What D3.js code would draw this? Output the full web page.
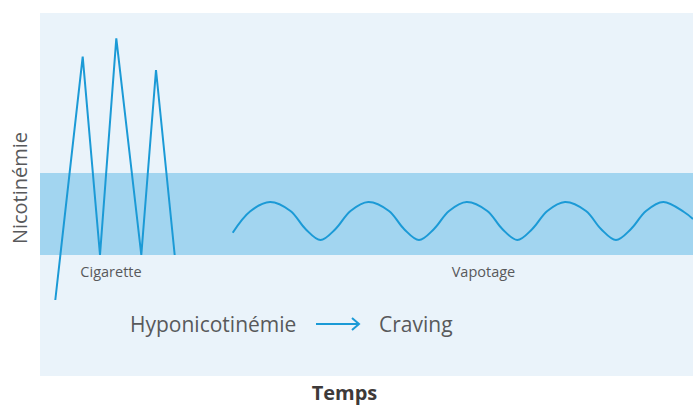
<!DOCTYPE html>
<html>
<head>
<meta charset="utf-8">
<script src="https://cdn.jsdelivr.net/npm/d3@7"></script>
<style>
	body { margin: 0; background: #fff; }
	text { font-family: "Open Sans", sans-serif; }
</style>
</head>
<body>
<div id="svg"></div>
<script>
const width = 693,
			height = 405;

// time in arbitrary units, level = nicotinemia
const timeDomain = [0, 65.3],
			levelDomain = [0, 36.3];

// comfort zone (shaded band)
const bandLevels = [12.1, 20.3];

// Cigarette: spikes [time, level]
const cigarette = [
	[1.53, 7.6],
	[4.27, 31.93],
	[6.0, 12.1],
	[7.63, 33.77],
	[10.13, 12.1],
	[11.6, 30.6],
	[13.47, 12.1]
];

// Vapotage: smooth waves [time, level]
const vapotage = [
	[19.27, 14.33], [21.0, 16.45], [23.0, 17.4],
	[25.05, 16.5], [26.55, 14.7], [28.05, 13.6],
	[29.55, 14.7], [31.05, 16.5], [32.83, 17.4],
	[34.9, 16.5], [36.4, 14.7], [37.9, 13.6],
	[39.4, 14.7], [40.9, 16.5], [42.66, 17.4],
	[44.73, 16.5], [46.23, 14.7], [47.73, 13.6],
	[49.23, 14.7], [50.73, 16.5], [52.5, 17.4],
	[54.6, 16.5], [56.1, 14.7], [57.6, 13.6],
	[59.1, 14.7], [60.6, 16.5], [62.33, 17.4],
	[64.4, 16.4], [65.3, 15.7]
];

const seriesLabels = [
	{ text: "Cigarette", t: 7.1 },
	{ text: "Vapotage", t: 44.35 }
];
const labelLevel = 9.9;

const yTitle = "Nicotinémie",
			xTitle = "Temps",
			causeText = "Hyponicotinémie",
			effectText = "Craving";

const blue = "#1b9ad6",
			textGray = "#58595b";

const margin = { top: 13, right: 0, bottom: 29, left: 40 };

const x = d3.scaleLinear()
		.domain(timeDomain)
		.range([margin.left, width - margin.right]);

const y = d3.scaleLinear()
		.domain(levelDomain)
		.range([height - margin.bottom, margin.top]);

const svg = d3.select("#svg")
	.append("svg")
		.attr("width", width)
		.attr("height", height);

// Plot background
svg.append("rect")
		.attr("x", x(timeDomain[0]))
		.attr("y", y(levelDomain[1]))
		.attr("width", x(timeDomain[1]) - x(timeDomain[0]))
		.attr("height", y(levelDomain[0]) - y(levelDomain[1]))
		.attr("fill", "#eaf3fa");

// Band
svg.append("rect")
		.attr("x", x(timeDomain[0]))
		.attr("y", y(bandLevels[1]))
		.attr("width", x(timeDomain[1]) - x(timeDomain[0]))
		.attr("height", y(bandLevels[0]) - y(bandLevels[1]))
		.attr("fill", "#a2d5f0");

svg.append("path")
		.datum(cigarette)
		.attr("fill", "none")
		.attr("stroke", blue)
		.attr("stroke-width", 2)
		.attr("d", d3.line()
				.x(d => x(d[0]))
				.y(d => y(d[1])));

svg.append("path")
		.datum(vapotage)
		.attr("fill", "none")
		.attr("stroke", blue)
		.attr("stroke-width", 2)
		.attr("d", d3.line()
				.curve(d3.curveCatmullRom)
				.x(d => x(d[0]))
				.y(d => y(d[1])));

// Series labels
svg.selectAll(".series-label")
	.data(seriesLabels)
	.enter()
	.append("text")
		.attr("class", "series-label")
		.attr("x", d => x(d.t))
		.attr("y", y(labelLevel))
		.attr("text-anchor", "middle")
		.attr("fill", textGray)
		.style("font-size", "14.5px")
		.text(d => d.text);

// Hyponicotinémie -> Craving
const note = svg.append("g")
		.attr("transform", "translate(0, 332)");

note.append("text")
		.attr("x", 130)
		.attr("fill", textGray)
		.style("font-size", "21px")
		.text(causeText);

note.append("path")
		.attr("d", "M316,-8H359M352,-14L359,-8L352,-2")
		.attr("fill", "none")
		.attr("stroke", blue)
		.attr("stroke-width", 2);

note.append("text")
		.attr("x", 379)
		.attr("fill", textGray)
		.style("font-size", "21px")
		.text(effectText);

// Axis titles
svg.append("text")
		.attr("transform", "translate(27, 188) rotate(-90)")
		.attr("text-anchor", "middle")
		.attr("fill", textGray)
		.style("font-size", "20px")
		.text(yTitle);

svg.append("text")
		.attr("x", 344.5)
		.attr("y", 399.5)
		.attr("text-anchor", "middle")
		.attr("fill", "#3e3a39")
		.style("font-size", "20px")
		.style("font-weight", "bold")
		.text(xTitle);
</script>
</body>
</html>
